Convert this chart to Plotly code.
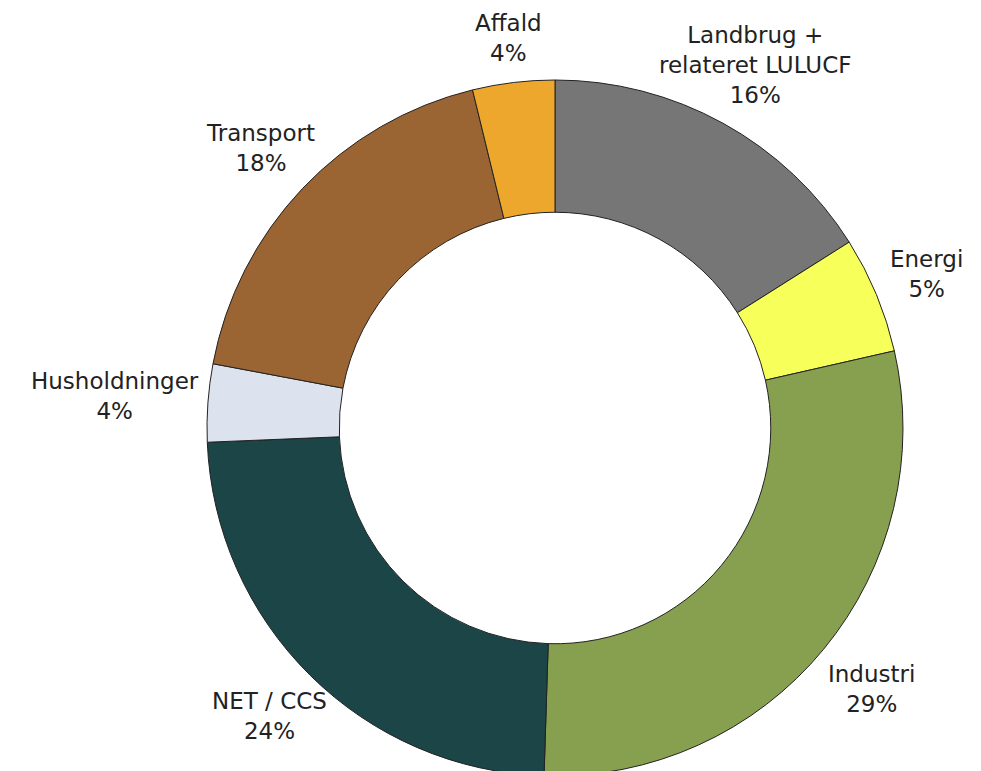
import math
import plotly.graph_objects as go

labels = ["Landbrug +<br>relateret LULUCF", "Energi", "Industri", "NET / CCS",
          "Husholdninger", "Transport", "Affald"]
values = [16.0, 5.4, 29.0, 23.8, 3.6, 18.2, 3.8]
colors = ["#767676", "#F7FF5A", "#87A04F", "#1B4546", "#DDE3EE", "#9A6433", "#EDA72D"]

W, H = 981, 771
# pie centre / radius in figure pixels (page has an 8px body margin)
cx, cy, r = 547, 420, 348
FONT = "DejaVu Sans, sans-serif"
FS = 23

fig = go.Figure(go.Pie(
    labels=labels,
    values=values,
    sort=False,
    direction="clockwise",
    rotation=0,
    hole=0.62,
    marker=dict(colors=colors, line=dict(color="#222222", width=1)),
    textinfo="none",
    automargin=False,
    showlegend=False,
    hoverinfo="label+percent",
    domain=dict(x=[(cx - r) / W, (cx + r) / W],
                y=[(H - cy - r) / H, (H - cy + r) / H]),
))

# outside-end labels placed from the slice mid-angles
total = sum(values)
cum = 0.0
gap = 15
for lab, v in zip(labels, values):
    mid = (cum + v / 2) / total * 2 * math.pi
    cum += v
    text = f"{lab}<br>{round(v / total * 100)}%"
    lines = text.split("<br>")
    tw = max(len(s) for s in lines) * 0.52 * FS
    th = len(lines) * 1.3 * FS
    s, c = math.sin(mid), math.cos(mid)
    edge = min((tw / 2) / abs(s) if abs(s) > 1e-6 else 1e9,
               (th / 2) / abs(c) if abs(c) > 1e-6 else 1e9)
    d = r + gap + edge
    px = cx + d * s
    py = cy - d * c
    fig.add_annotation(
        x=px / W, y=(H - py) / H, xref="paper", yref="paper",
        text=text, showarrow=False, xanchor="center", yanchor="middle",
        align="center", font=dict(family=FONT, size=FS, color="#222222"),
    )

fig.update_layout(
    width=W,
    height=H,
    margin=dict(l=0, r=0, t=0, b=0),
    paper_bgcolor="white",
    plot_bgcolor="white",
)

fig.write_html("out.html")
